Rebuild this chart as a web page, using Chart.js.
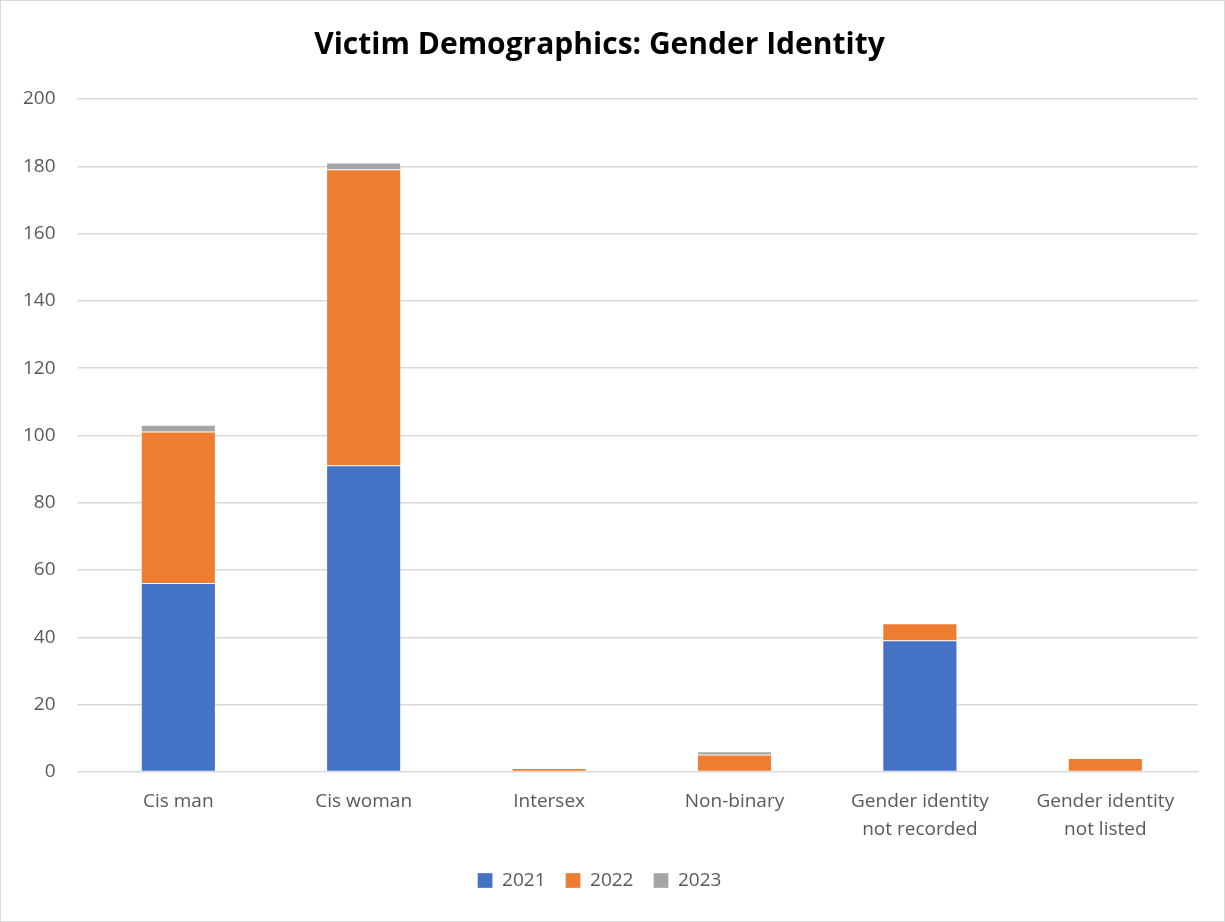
<!DOCTYPE html>
<html>
<head>
<meta charset="utf-8">
<script src="https://cdn.jsdelivr.net/npm/chart.js@4/dist/chart.umd.min.js"></script>
<style>
  html, body { margin: 0; padding: 0; background: #fff; }
  #wrap { position: relative; width: 1223px; height: 920px; border: 1px solid #d9d9d9; }
</style>
</head>
<body>
<div id="wrap"><canvas id="chart"></canvas></div>
<script>
const categories = [
  'Cis man',
  'Cis woman',
  'Intersex',
  'Non-binary',
  ['Gender identity', 'not recorded'],
  ['Gender identity', 'not listed']
];
const values2021 = [56, 91, 0, 0, 39, 0];
const values2022 = [45, 88, 1, 5, 5, 4];
const values2023 = [2, 2, 0, 1, 0, 0];
const yTicks = [0, 20, 40, 60, 80, 100, 120, 140, 160, 180, 200];

const txt = '#595959';
const fontFam = "'Open Sans', 'Noto Sans', sans-serif";

function serie(label, data, color) {
  return {
    label: label,
    data: data,
    backgroundColor: color,
    borderColor: 'rgba(255,255,255,0.6)',
    borderWidth: 0.5,
    borderSkipped: false,
    barPercentage: 0.4,
    categoryPercentage: 1.0
  };
}

new Chart(document.getElementById('chart').getContext('2d'), {
  type: 'bar',
  data: {
    labels: categories,
    datasets: [
      serie('2021', values2021, '#4472c4'),
      serie('2022', values2022, '#ed7d31'),
      serie('2023', values2023, '#a5a5a5')
    ]
  },
  options: {
    responsive: true,
    maintainAspectRatio: false,
    animation: false,
    layout: { padding: { left: 0, right: 26, top: 14, bottom: 21 } },
    plugins: {
      title: {
        display: true,
        text: 'Victim Demographics: Gender Identity',
        color: '#000',
        font: { family: fontFam, size: 30, weight: 'bold' },
        padding: { top: 12, bottom: 36 }
      },
      legend: {
        position: 'bottom',
        labels: {
          color: txt,
          font: { family: fontFam, size: 19 },
          boxWidth: 15,
          boxHeight: 15,
          padding: 20
        }
      },
      tooltip: { enabled: false }
    },
    scales: {
      x: {
        stacked: true,
        grid: { display: false },
        border: { color: '#d9d9d9' },
        ticks: { color: txt, font: { family: fontFam, size: 19, lineHeight: 1.45 }, maxRotation: 0, padding: 8 }
      },
      y: {
        stacked: true,
        min: 0,
        max: 200,
        afterBuildTicks: (axis) => { axis.ticks = yTicks.map(v => ({ value: v })); },
        grid: { color: '#d9d9d9', lineWidth: 1.5 },
        border: { display: false },
        ticks: { color: txt, font: { family: fontFam, size: 19 }, padding: 22 }
      }
    }
  }
});
</script>
</body>
</html>
